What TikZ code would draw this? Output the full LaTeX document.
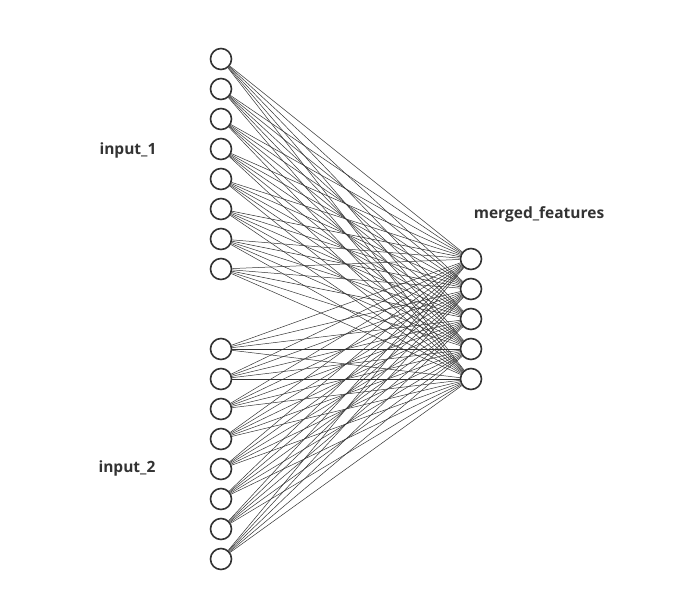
\documentclass[tikz,border=0pt]{standalone}
\usepackage{fontspec}
\setmainfont{Open Sans}
\definecolor{ink}{HTML}{333333}
\begin{document}
\begin{tikzpicture}[x=1pt,y=-1pt,
  neuron/.style={circle,draw=ink,line width=1.6pt,minimum size=21pt,inner sep=0pt,fill=white},
  conn/.style={draw=ink,line width=0.5pt},
  lbl/.style={font=\bfseries\fontsize{15.5}{18}\selectfont,text=ink}]
\useasboundingbox (0,0) rectangle (692,602);
\foreach \i in {1,...,8}{
  \node[neuron] (a\i) at (221,{59+30*(\i-1)}) {};
  \node[neuron] (b\i) at (221,{349+30*(\i-1)}) {};
}
\foreach \j in {1,...,5}{
  \node[neuron] (m\j) at (471,{259+30*(\j-1)}) {};
}
\foreach \i in {1,...,8}{
  \foreach \j in {1,...,5}{
    \draw[conn] (a\i) -- (m\j);
    \draw[conn] (b\i) -- (m\j);
  }
}
\node[lbl] (l1) at (128,150) {input\_1};
\node[lbl] (l2) at (127,468) {input\_2};
\node[lbl] (l3) at (539,214) {merged\_features};
\end{tikzpicture}
\end{document}
